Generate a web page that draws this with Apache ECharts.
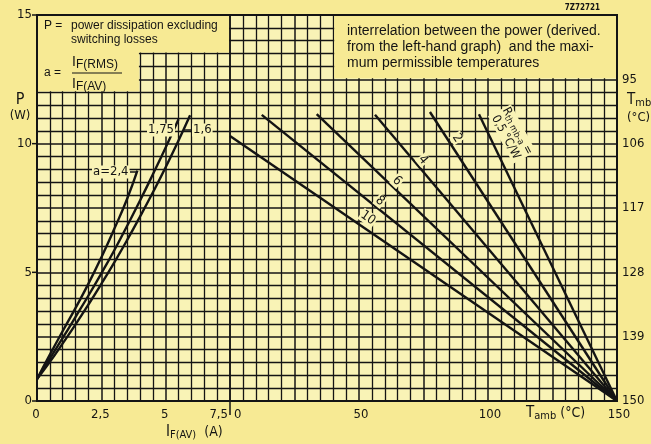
<!DOCTYPE html>
<html><head><meta charset="utf-8">
<script src="https://cdn.jsdelivr.net/npm/echarts@6/dist/echarts.min.js"></script>
<style>html,body{margin:0;padding:0;background:#f7ea94;}#c{width:651px;height:444px;}</style>
</head><body><div id="c"></div>
<script>
// ---- Left graph: P (W) vs I_F(AV) (A), form factor a ----
const curveNames = ['a=2,4', '1,75', '1,6'];
const curveA24_I  = [0, 0.5, 1, 1.5, 2, 2.5, 3, 3.5, 3.9];
const curveA24_P  = [0.85, 1.8, 2.72, 3.62, 4.56, 5.58, 6.68, 7.85, 8.95];
const curveA175_I = [0, 0.5, 1, 1.5, 2, 2.5, 3, 3.5, 4, 4.5, 5, 5.5];
const curveA175_P = [0.85, 1.65, 2.45, 3.27, 4.1, 4.96, 5.85, 6.8, 7.78, 8.8, 9.85, 10.95];
const curveA16_I  = [0, 0.5, 1, 1.5, 2, 2.5, 3, 3.5, 4, 4.5, 5, 5.5, 5.95];
const curveA16_P  = [0.85, 1.52, 2.24, 2.98, 3.75, 4.55, 5.38, 6.25, 7.16, 8.1, 9.08, 10.12, 11.1];

// ---- Right graph: P (W) vs T_amb (degC), R_th mb-a ----
const rthNames   = ['0,5', '2', '4', '6', '8', '10'];
const rthStartT  = [96.5, 77.5, 56.2, 33.6, 12.3, 0];
const rthStartP  = [11.14, 11.23, 11.12, 11.15, 11.12, 10.3];
const rthEndT    = [150, 150, 150, 150, 150, 150];
const rthEndP    = [0, 0, 0, 0, 0, 0];

// ---- tick labels ----
const iLabels    = ['0', '2,5', '5', '7,5'];
const pLabels    = ['0', '5', '10', '15'];
const tAmbLabels = ['0', '50', '100', '150'];
const tMbLabels  = ['150', '139', '128', '117', '106', '95'];

const INK = '#141414';
const CELL = '#f9f3b6';
const PAGE = '#f7ea94';
const numFont = "'DejaVu Sans Condensed','Liberation Sans Narrow',Roboto,sans-serif";
const txtFont = "'Liberation Sans',Arial,sans-serif";

const chart = echarts.init(document.getElementById('c'), null, {renderer: 'canvas'});

function zip(a, b) { return a.map((v, i) => [v, b[i]]); }

const splitMajor = {show: true, lineStyle: {color: INK, width: 1.5}};
const splitMinor = {show: true, lineStyle: {color: INK, width: 1.3}};
const lblBase = {color: INK, fontFamily: numFont, fontSize: 13};

const series = [];
[[curveA24_I, curveA24_P], [curveA175_I, curveA175_P], [curveA16_I, curveA16_P]].forEach((c, i) => {
  series.push({type: 'line', name: curveNames[i], xAxisIndex: 0, yAxisIndex: 0, smooth: true,
    showSymbol: false, symbol: 'none', data: zip(c[0], c[1]),
    lineStyle: {color: INK, width: 2.4}, z: 3, silent: true, animation: false});
});
rthNames.forEach((n, i) => {
  series.push({type: 'line', name: 'R' + n, xAxisIndex: 1, yAxisIndex: 1, showSymbol: false, symbol: 'none',
    data: [[rthStartT[i], rthStartP[i]], [rthEndT[i], rthEndP[i]]],
    lineStyle: {color: INK, width: 2.4}, z: 3, silent: true, animation: false});
});

chart.setOption({
  backgroundColor: PAGE,
  animation: false,
  grid: [
    {left: 37, top: 15, width: 193, height: 386, show: true, backgroundColor: CELL, borderWidth: 0},
    {left: 230, top: 15, width: 387, height: 386, show: true, backgroundColor: CELL, borderWidth: 0}
  ],
  xAxis: [
    {type: 'value', gridIndex: 0, min: 0, max: 7.5, interval: 2.5,
     axisLine: {show: false}, axisTick: {show: false},
     splitLine: splitMajor, minorTick: {show: false, splitNumber: 5}, minorSplitLine: splitMinor,
     axisLabel: Object.assign({}, lblBase, {margin: 7, alignMaxLabel: 'right', padding: [0, 2, 0, 0],
       formatter: v => iLabels[Math.round(v / 2.5)] || ''})},
    {type: 'value', gridIndex: 1, min: 0, max: 150, interval: 25,
     axisLine: {show: false}, axisTick: {show: false},
     splitLine: splitMajor, minorTick: {show: false, splitNumber: 5}, minorSplitLine: splitMinor,
     axisLabel: Object.assign({}, lblBase, {margin: 7, alignMinLabel: 'left', padding: [0, 0, 0, 4],
       formatter: v => (v % 50 === 0 ? tAmbLabels[v / 50] : '')})}
  ],
  yAxis: [
    {type: 'value', gridIndex: 0, min: 0, max: 15, interval: 2.5,
     axisLine: {show: false}, axisTick: {show: false},
     splitLine: splitMajor, minorTick: {show: false, splitNumber: 5}, minorSplitLine: splitMinor,
     axisLabel: Object.assign({}, lblBase, {margin: 5,
       formatter: v => (v % 5 === 0 ? pLabels[v / 5] : '')})},
    {type: 'value', gridIndex: 1, min: 0, max: 15, interval: 2.5, position: 'right',
     axisLine: {show: false}, axisTick: {show: false},
     splitLine: splitMajor, minorTick: {show: false, splitNumber: 5}, minorSplitLine: splitMinor,
     axisLabel: Object.assign({}, lblBase, {margin: 5,
       formatter: v => (v < 15 ? tMbLabels[Math.round(v / 2.5)] : '')})}
  ],
  series: series
});

function px(g, x, y) { return chart.convertToPixel({gridIndex: g}, [x, y]); }

const G = [];
function rect(x, y, w, h, fill, z) {
  G.push({type: 'rect', z: z || 1, silent: true, shape: {x, y, width: w, height: h}, style: {fill}});
}
function line(x1, y1, x2, y2, w, z) {
  G.push({type: 'line', z: z || 6, silent: true, shape: {x1, y1, x2, y2}, style: {stroke: INK, lineWidth: w || 1.5}});
}
function text(t, x, y, o) {
  o = o || {};
  G.push({type: 'text', z: o.z || 7, silent: true, x, y, rotation: o.rot || 0,
    style: Object.assign({text: t, x: 0, y: 0, fill: INK, font: o.font || ('13px ' + numFont),
      align: o.align || 'left', verticalAlign: o.va || 'middle'}, o.style || {})});
}

// blank (gridless) text regions
let a1 = px(0, 0, 15), a2 = px(0, 4, 12);
rect(a1[0], a1[1], a2[0] - a1[0] - 1, a2[1] - a1[1] - 1, PAGE);
let b1 = px(0, 4, 15), b2 = px(0, 7.5, 13.5);
rect(b1[0] - 2, b1[1], b2[0] - 1 - (b1[0] - 2), b2[1] - 1 - b1[1], PAGE);
let c1 = px(1, 40, 15), c2 = px(1, 150, 12.5);
rect(c1[0] + 1, c1[1], c2[0] - c1[0] - 1, c2[1] - 1 - c1[1], PAGE);

// frame
let f1 = px(0, 0, 15), f2 = px(1, 150, 0);
G.push({type: 'rect', z: 8, silent: true, shape: {x: f1[0], y: f1[1], width: f2[0] - f1[0], height: f2[1] - f1[1]},
  style: {fill: null, stroke: INK, lineWidth: 2}});

// left axis ticks at labelled values
[0, 5, 10, 15].forEach(v => { const p = px(0, 0, v); line(p[0] - 5, p[1], p[0], p[1], 1.5); });
// separator tick between the two x scales
let s = px(0, 7.5, 0); line(s[0], s[1], s[0], s[1] + 14, 1.5);

// left box text
const sf = '12px ' + txtFont;
text('P =', 44, 26, {font: sf});
text('power dissipation excluding', 71, 26, {font: sf});
text('switching losses', 71, 40, {font: sf});
text('a =', 44, 73, {font: sf});
const fracRich = {I: {font: '14px ' + txtFont, fill: INK}, s: {font: '12px ' + txtFont, fill: INK, padding: [6, 0, 0, 0]}};
text('{I|I}{s|F(RMS)}', 72, 62, {style: {rich: fracRich}});
line(72, 73, 122, 73, 1.1);
text('{I|I}{s|F(AV)}', 72, 84, {style: {rich: fracRich}});

// right box text
const bf = '14px ' + txtFont;
text('interrelation between the power (derived.', 347, 31, {font: bf});
text('from the left-hand graph)  and the maxi-', 347, 47, {font: bf});
text('mum permissible temperatures', 347, 63, {font: bf});

// small figure number
text('7Z72721', 600, 8, {font: 'bold 8px ' + numFont, align: 'right'});

// axis names
text('P', 20, 100, {font: '16px ' + numFont, align: 'center'});
text('(W)', 20, 116, {font: '13px ' + numFont, align: 'center'});
const axRich = {b: {font: '15px ' + numFont, fill: INK}, s: {font: '11px ' + numFont, fill: INK, padding: [6, 0, 0, 0]},
  t: {font: '14px ' + numFont, fill: INK}};
text('{b|I}{s|F(AV)}{t|  (A)}', 166, 432, {style: {rich: axRich}});
text('{b|T}{s|amb}{t| (°C)}', 526, 413, {style: {rich: axRich}});
text('{b|T}{s|mb}', 627, 100, {style: {rich: axRich}});
text('(°C)', 627, 118, {font: '13px ' + numFont});

// curve labels (left)
const lf = '13px ' + numFont;
const lbg = {backgroundColor: CELL, padding: [0, 1]};
text('a=2,4', 92, 172, {font: lf, style: lbg});
line(130, 172, 137, 172, 1.5);
text('1,75', 147, 130, {font: lf, style: lbg});
line(168, 130, 174, 130, 1.5);
line(184, 130, 191, 130, 1.5);
text('1,6', 192, 130, {font: lf, style: lbg});

// R_th labels (right)
const deg = Math.PI / 180;
text('2', 457, 138, {font: lf, align: 'center', rot: -57 * deg, style: lbg});
text('4', 423, 160, {font: lf, align: 'center', rot: -50 * deg, style: lbg});
text('6', 397, 181, {font: lf, align: 'center', rot: -44 * deg, style: lbg});
text('8', 380, 201, {font: lf, align: 'center', rot: -39 * deg, style: lbg});
text('10', 368, 218, {font: lf, align: 'center', rot: -35 * deg, style: lbg});
const rRich = {b: {font: '12px ' + numFont, fill: INK}, s: {font: '9px ' + numFont, fill: INK, padding: [5, 0, 0, 0]}};
text('{b|R}{s|th mb-a}{b| =}\n{b|0,5 °C/W}', 512, 134, {align: 'center', rot: -62 * deg,
  style: {rich: rRich, backgroundColor: CELL, padding: [0, 1]}});

chart.setOption({graphic: G});
</script></body></html>
